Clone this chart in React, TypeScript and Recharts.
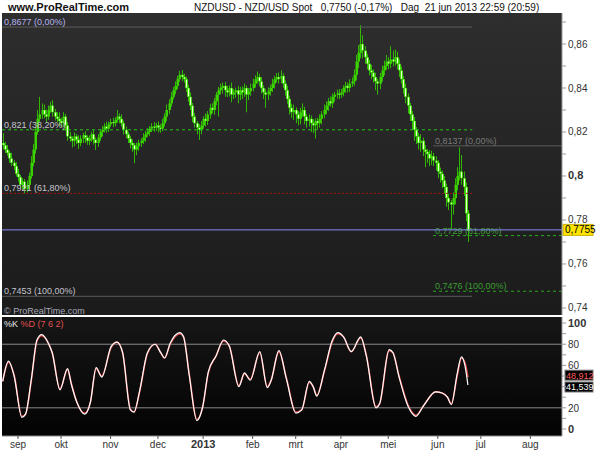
import React from 'react';
import { ComposedChart, LineChart, Bar, Line, XAxis, YAxis, ReferenceLine, CartesianGrid } from 'recharts';

// NZD/USD daily, prices in 1/10000 (8150 = 0,8150)
const firstOpen = 8150;
const closes = [
  8140, 8120, 8105, 8080, 8060, 8045, 8010, 7995, 7960, 7975,
  7940, 7960, 8000, 8060, 8120, 8200, 8260, 8280, 8300, 8280,
  8270, 8300, 8320, 8290, 8270, 8260, 8250, 8240, 8270, 8230,
  8180, 8170, 8160, 8180, 8165, 8150, 8170, 8185, 8175, 8160,
  8170, 8190, 8165, 8150, 8175, 8200, 8210, 8225, 8215, 8235,
  8245, 8240, 8255, 8270, 8260, 8240, 8210, 8190, 8170, 8150,
  8140, 8120, 8135, 8150, 8160, 8175, 8190, 8200, 8215, 8225,
  8220, 8230, 8220, 8215, 8240, 8270, 8300, 8330, 8360, 8390,
  8410, 8440, 8460, 8450, 8440, 8400, 8360, 8320, 8270, 8240,
  8220, 8210, 8230, 8260, 8250, 8280, 8310, 8300, 8340, 8370,
  8390, 8400, 8410, 8390, 8380, 8400, 8370, 8380, 8390, 8370,
  8390, 8380, 8400, 8370, 8385, 8400, 8420, 8440, 8450, 8430,
  8400, 8380, 8370, 8385, 8400, 8420, 8440, 8450, 8440, 8455,
  8420, 8390, 8350, 8310, 8290, 8300, 8280, 8260, 8290, 8300,
  8270, 8250, 8260, 8240, 8230, 8250, 8240, 8260, 8280, 8300,
  8320, 8340, 8330, 8360, 8370, 8375, 8370, 8380, 8400, 8410,
  8400, 8420, 8430, 8460, 8520, 8560, 8600, 8570, 8540, 8510,
  8480, 8470, 8450, 8430, 8420, 8450, 8480, 8500, 8520, 8510,
  8530, 8520, 8540, 8510, 8480, 8440, 8400, 8360, 8320, 8280,
  8250, 8210, 8180, 8150, 8160, 8120, 8110, 8100, 8080, 8090,
  8070, 8060, 8020, 8010, 7980, 7950, 7900, 7880, 7870, 7900,
  7960, 8000, 8020, 7990, 7950, 7830, 7750,
];
const wickUp = [
  45, 15, 20, 10, 25, 12, 18, 22, 10, 15,
  12, 20, 15, 30, 25, 20, 40, 80, 30, 25,
  22, 20, 18, 25, 15, 20, 30, 15, 20, 12,
  15, 20, 10, 18, 12, 20, 15, 12, 18, 10,
  15, 12, 20, 10, 15, 12, 18, 15, 22, 12,
  15, 20, 12, 30, 15, 20, 12, 15, 10, 12,
  15, 10, 18, 15, 12, 20, 15, 18, 12, 15,
  20, 12, 18, 15, 20, 15, 25, 18, 22, 15,
  20, 15, 18, 22, 15, 12, 15, 20, 12, 15,
  10, 15, 20, 12, 25, 15, 18, 20, 15, 12,
  15, 20, 15, 18, 20, 12, 25, 15, 12, 20,
  15, 18, 20, 12, 15, 20, 22, 18, 25, 15,
  20, 12, 15, 18, 15, 22, 15, 18, 20, 25,
  12, 15, 20, 15, 18, 25, 12, 15, 20, 30,
  15, 12, 20, 15, 18, 12, 15, 20, 15, 25,
  18, 15, 22, 15, 12, 18, 20, 15, 12, 18,
  15, 20, 18, 25, 30, 35, 86, 40, 20, 15,
  18, 25, 15, 20, 12, 18, 22, 25, 30, 20,
  60, 40, 35, 25, 20, 18, 15, 20, 15, 12,
  15, 18, 12, 15, 30, 15, 20, 12, 18, 25,
  15, 20, 12, 18, 15, 20, 15, 20, 12, 25,
  30, 40, 110, 75, 30, 20, 15,
];
const wickDn = [
  20, 15, 12, 20, 15, 18, 12, 20, 15, 22,
  19, 15, 20, 12, 15, 18, 12, 15, 20, 18,
  25, 15, 12, 20, 18, 15, 22, 20, 18, 25,
  20, 15, 30, 25, 20, 28, 15, 20, 25, 18,
  20, 15, 22, 32, 18, 15, 20, 12, 18, 15,
  12, 18, 15, 12, 20, 15, 22, 18, 20, 25,
  30, 62, 25, 20, 18, 15, 20, 12, 18, 15,
  20, 15, 22, 18, 12, 15, 20, 18, 15, 12,
  18, 15, 12, 20, 15, 18, 22, 20, 25, 20,
  30, 46, 20, 15, 25, 18, 20, 15, 22, 18,
  100, 20, 25, 30, 22, 18, 35, 20, 25, 40,
  25, 30, 20, 80, 25, 20, 15, 18, 20, 22,
  25, 30, 60, 25, 20, 18, 22, 15, 20, 18,
  20, 25, 22, 30, 25, 35, 40, 30, 25, 20,
  35, 30, 25, 40, 35, 60, 30, 20, 25, 18,
  20, 25, 15, 20, 22, 18, 20, 15, 18, 22,
  20, 18, 15, 20, 25, 30, 25, 35, 30, 25,
  22, 30, 25, 40, 50, 25, 20, 22, 18, 25,
  20, 22, 18, 25, 30, 20, 25, 30, 35, 30,
  40, 50, 35, 30, 40, 30, 70, 40, 35, 30,
  25, 35, 30, 40, 35, 30, 40, 35, 106, 45,
  30, 25, 20, 30, 40, 35, 50,
];

// stochastic %K / %D turning points (trading-day index, value)
const stochIdx = [
  0.9, 3.6, 6.2, 9.8, 11.5, 14.2, 16.8, 19, 22.1, 23.9,
  27.5, 31, 32.8, 35.4, 39, 41.6, 44.3, 46.9, 51.3, 54,
  56.6, 60.2, 61.9, 64.6, 68.1, 71.7, 74.3, 76.1, 78.7, 83.2,
  84.9, 87.6, 91.1, 93.8, 96.4, 100, 103.5, 106.2, 110.6, 113.2,
  115.9, 120.3, 123.8, 125.6, 129.2, 132.7, 137.1, 139.8, 143.3, 145.1,
  146.8, 150.4, 153.9, 156.6, 159.2, 162.8, 167.2, 169.8, 174.3, 176,
  180.4, 182.2, 184.9, 189.3, 192.8, 196.4, 202, 205, 207.5, 209.3,
  212, 214, 215.6, 217,
];
const stochK = [
  45, 64, 50, 11, 14, 47, 84, 89, 81, 72,
  37, 57, 42, 25, 14, 25, 58, 49, 78, 82,
  72, 18, 16, 37, 72, 80, 72, 67, 81, 91,
  87, 50, 8, 21, 54, 69, 84, 78, 40, 53,
  46, 73, 39, 46, 74, 47, 15, 18, 45, 40,
  31, 56, 83, 91, 87, 73, 87, 69, 20, 24,
  75, 72, 50, 21, 12, 22, 35, 34, 30, 23,
  52, 68, 60, 41.5,
];
const stochD = [
  45, 63, 51, 12, 14, 46, 83, 88, 81, 72,
  38, 56, 43, 25, 15, 25, 57, 50, 77, 82,
  72, 19, 16, 36, 71, 80, 72, 67, 80, 90,
  87, 51, 9, 21, 53, 69, 83, 78, 41, 52,
  47, 72, 40, 46, 73, 48, 16, 18, 44, 40,
  32, 55, 82, 90, 87, 73, 86, 70, 21, 24,
  74, 72, 51, 22, 13, 22, 35, 34, 30, 24,
  50, 67, 63, 48.9,
];

const monthTicks = [8, 28, 51, 73, 94, 117, 137, 158, 180, 203, 223, 246];
const monthLabels = ['sep', 'okt', 'nov', 'dec', '2013', 'feb', 'mrt', 'apr', 'mei', 'jun', 'jul', 'aug'];
const priceTicks = [7400, 7500, 7600, 7700, 7800, 7900, 8000, 8100, 8200, 8300, 8400, 8500, 8600, 8700];
const stochTicks = [0, 10, 20, 30, 40, 50, 60, 70, 80, 90, 100];

// fibonacci retracements: long swing (left) and last swing (right)
const fibLeft = [8677, 8210, 7921, 7453];
const fibLeftText = ['0,8677 (0,00%)', '0,821 (38,20%)', '0,7921 (61,80%)', '0,7453 (100,00%)'];
const fibRight = [8137, 7729, 7476];
const fibRightText = ['0,8137 (0,00%)', '0,7729 (61,80%)', '0,7476 (100,00%)'];
const lastPrice = 7755;
const lastK = 41.539;
const lastD = 48.912;

const X_DOMAIN = [0.57, 260.7];
const FONT = 'Arial, "Liberation Sans", sans-serif';

const candles = closes.map((c, k) => {
  const o = k === 0 ? firstOpen : closes[k - 1];
  return { i: k + 1, o, c, h: Math.max(o, c) + wickUp[k], l: Math.min(o, c) - wickDn[k] };
});
const kData = stochIdx.map((i, k) => ({ i, v: stochK[k] }));
const dData = stochIdx.map((i, k) => ({ i, v: stochD[k] }));

const Candle = (props: any) => {
  const { x, y, width, height, payload } = props;
  const { o, c, h, l } = payload;
  const cx = Math.round(x + width / 2);
  const k = h > l ? height / (h - l) : 0;
  const yo = y + (h - o) * k;
  const yc = y + (h - c) * k;
  const top = Math.min(yo, yc);
  const bh = Math.max(1, Math.abs(yc - yo));
  return (
    <g>
      <line x1={cx + 0.5} x2={cx + 0.5} y1={y} y2={y + height} stroke="#30b800" strokeWidth={1} />
      {c >= o ? (
        <rect x={cx - 0.5} y={top} width={2.5} height={bh} fill="#3cd200" />
      ) : (
        <g>
          <rect x={cx - 1} y={top} width={3} height={bh} fill="#44d808" />
          <rect x={cx} y={top + 0.5} width={1} height={Math.max(0.5, bh - 1)} fill="#e6ffd2" />
        </g>
      )}
    </g>
  );
};

const FibLabel = ({ viewBox, text, color }: any) => (
  <text x={viewBox.x + 2} y={viewBox.y - 2} fill={color} fontSize={9} fontFamily={FONT}>{text}</text>
);

const PriceBox = ({ viewBox }: any) => (
  <g>
    <rect x={viewBox.x + viewBox.width + 1} y={viewBox.y - 5.5} width={30} height={11} fill="#ffe400" stroke="#c8b000" />
    <text x={viewBox.x + viewBox.width + 3} y={viewBox.y + 3.5} fontSize={10} fontFamily={FONT} fill="#000">
      {(lastPrice / 10000).toFixed(4).replace('.', ',')}
    </text>
  </g>
);

const ValueBox = ({ viewBox, text, color, shift }: any) => (
  <g>
    <rect x={viewBox.x + viewBox.width + 3} y={viewBox.y - 5 + shift} width={28} height={10} fill="#000" stroke="#777" />
    <text x={viewBox.x + viewBox.width + 4} y={viewBox.y + 3.5 + shift} fontSize={9} fontFamily={FONT} fill={color}>{text}</text>
  </g>
);

const PriceTick = ({ x, y, payload }: any) => {
  const v = payload.value;
  if (v % 200 !== 0) return null;
  const bold = v === 8000;
  const txt = bold ? '0,8' : (v / 10000).toFixed(2).replace('.', ',');
  return (
    <text x={x} y={y + 3.5} fontSize={bold ? 11 : 10} fontWeight={bold ? 'bold' : 'normal'} fontFamily={FONT} fill="#333" textAnchor="start">{txt}</text>
  );
};

const StochTick = ({ x, y, payload }: any) => {
  const v = payload.value;
  if (v % 20 !== 0 || v === 40) return null;
  const bold = v === 0 || v === 100;
  return (
    <text x={x} y={y + 4} fontSize={bold ? 11 : 10} fontWeight={bold ? 'bold' : 'normal'} fontFamily={FONT} fill="#333" textAnchor="start">{v}</text>
  );
};

const MonthTick = ({ x, y, payload }: any) => {
  const k = monthTicks.indexOf(payload.value);
  const txt = monthLabels[k];
  const bold = txt === '2013';
  return (
    <text x={x} y={y + 7} fontSize={bold ? 11 : 10} fontWeight={bold ? 'bold' : 'normal'} fontFamily={FONT} fill="#333" textAnchor="middle">{txt}</text>
  );
};

export default function App() {
  return (
    <div style={{ position: 'absolute', left: 0, top: 0, width: 600, height: 450, background: '#fff', fontFamily: FONT }}>
      <svg width={600} height={14} style={{ position: 'absolute', left: 0, top: 0 }}>
        <text x={8} y={11} fontSize={11} fontWeight="bold" fill="#111" fontFamily={FONT}>www.ProRealTime.com</text>
        <text x={194} y={11} fontSize={10} fill="#111" fontFamily={FONT}>
          NZDUSD - NZD/USD Spot{'\u00a0\u00a0\u00a0'}0,7750 (-0,17%){'\u00a0\u00a0\u00a0'}Dag{'\u00a0\u00a0'}21 jun 2013 22:59 (20:59)
        </text>
      </svg>

      <div style={{ position: 'absolute', left: 0, top: 0 }}>
        <ComposedChart width={600} height={317} data={candles} margin={{ top: 13, right: 0, bottom: 2, left: 2 }}>
          <defs>
            <linearGradient id="priceBg" x1="0" y1="0" x2="0" y2="1">
              <stop offset="0%" stopColor="#2e2e2e" />
              <stop offset="100%" stopColor="#1b1b1b" />
            </linearGradient>
          </defs>
          <CartesianGrid horizontal={false} vertical={false} fill="url(#priceBg)" />
          <XAxis dataKey="i" type="number" domain={X_DOMAIN} allowDataOverflow hide />
          <YAxis
            orientation="right"
            width={38}
            domain={[7368, 8741]}
            allowDataOverflow
            ticks={priceTicks}
            interval={0}
            tick={<PriceTick />}
            tickSize={4}
            tickLine={{ stroke: '#999' }}
            axisLine={{ stroke: '#999' }}
          />
          {fibLeft.map((v, k) => (
            <ReferenceLine
              key={'fl' + k}
              segment={[{ x: X_DOMAIN[0], y: v }, { x: 219, y: v }]}
              stroke={k === 1 ? '#22c814' : k === 2 ? '#a01212' : '#5c5c5c'}
              strokeDasharray={k === 1 ? '3 3' : k === 2 ? '2 2' : undefined}
              label={<FibLabel text={fibLeftText[k]} color={k === 0 ? '#b4b4ee' : '#c4c4cc'} />}
            />
          ))}
          {fibRight.map((v, k) => (
            <ReferenceLine
              key={'fr' + k}
              segment={[{ x: 200.8, y: v }, { x: X_DOMAIN[1], y: v }]}
              stroke={k === 0 ? '#5c5c5c' : '#2aa81e'}
              strokeDasharray={k === 0 ? undefined : '3 3'}
              label={<FibLabel text={fibRightText[k]} color={k === 0 ? '#7a7a7a' : '#3c9e32'} />}
            />
          ))}
          <ReferenceLine y={lastPrice} stroke="#8a8aff" label={<PriceBox />} />
          <Bar dataKey={(d: any) => [d.l, d.h]} barSize={2} shape={<Candle />} isAnimationActive={false} />
        </ComposedChart>
      </div>

      <svg width={200} height={14} style={{ position: 'absolute', left: 0, top: 303 }}>
        <text x={4} y={11} fontSize={9} fill="#a8a8b8" fontFamily={FONT}>© ProRealTime.com</text>
      </svg>

      <div style={{ position: 'absolute', left: 0, top: 317 }}>
        <LineChart width={600} height={133} margin={{ top: 0, right: 0, bottom: 0, left: 2 }}>
          <defs>
            <linearGradient id="stochBg" x1="0" y1="0" x2="0" y2="1">
              <stop offset="0%" stopColor="#161616" />
              <stop offset="100%" stopColor="#030303" />
            </linearGradient>
          </defs>
          <CartesianGrid horizontal={false} vertical={false} fill="url(#stochBg)" />
          <XAxis
            dataKey="i"
            type="number"
            domain={X_DOMAIN}
            allowDataOverflow
            ticks={monthTicks}
            interval={0}
            height={14}
            tick={<MonthTick />}
            tickSize={3}
            tickLine={{ stroke: '#555' }}
            axisLine={{ stroke: '#888' }}
          />
          <YAxis
            orientation="right"
            width={38}
            domain={[-6.6, 105.7]}
            allowDataOverflow
            ticks={stochTicks}
            interval={0}
            tick={<StochTick />}
            tickSize={4}
            tickLine={{ stroke: '#999' }}
            axisLine={{ stroke: '#999' }}
          />
          <ReferenceLine y={80} stroke="#8a8a8a" />
          <ReferenceLine y={20} stroke="#8a8a8a" />
          <Line data={dData} dataKey="v" type="monotone" stroke="#d84848" strokeWidth={1.6} dot={false} isAnimationActive={false} />
          <Line data={kData} dataKey="v" type="monotone" stroke="#ffffff" strokeWidth={1.2} dot={false} isAnimationActive={false} />
          <ReferenceLine y={lastD} stroke="none" label={<ValueBox shift={-2} text={lastD.toFixed(3).replace('.', ',')} color="#ff5a5a" />} />
          <ReferenceLine y={lastK} stroke="none" label={<ValueBox shift={2} text={lastK.toFixed(3).replace('.', ',')} color="#ffffff" />} />
        </LineChart>
      </div>

      <svg width={120} height={14} style={{ position: 'absolute', left: 0, top: 317 }}>
        <text x={4} y={10} fontSize={9} fontFamily={FONT}>
          <tspan fill="#e8e8e8">%K </tspan>
          <tspan fill="#e05050">%D (7 6 2)</tspan>
        </text>
      </svg>
    </div>
  );
}
